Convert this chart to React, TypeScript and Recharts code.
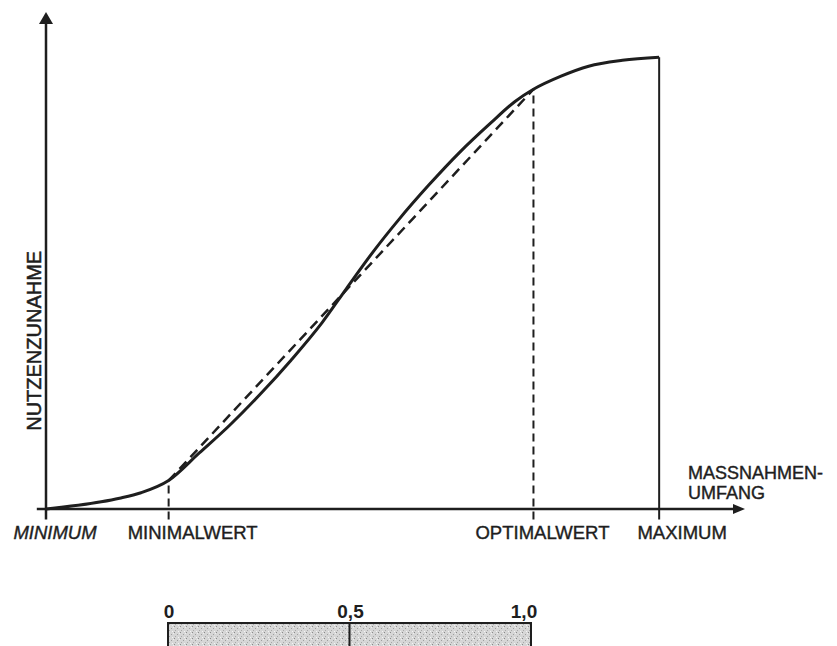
import React from 'react';
import {
  LineChart,
  Line,
  XAxis,
  YAxis,
  ReferenceLine,
  ReferenceDot,
  Label,
  BarChart,
  Bar,
} from 'recharts';

// S-Kurve: Nutzenzunahme über Maßnahmenumfang (0 = Minimum, 100 = Maximum)
const massnahmen = [0, 9, 12, 15.5, 20, 25, 30, 35, 40, 45, 49, 53.5, 57.5, 62.5, 67.5, 72.5, 76.5, 79.5, 84, 88.5, 94, 100];
const nutzen = [0, 1.6, 2.4, 3.6, 6.3, 12.4, 18.6, 25.5, 33, 41.2, 48.8, 57.2, 64, 71.8, 79, 85.4, 90.2, 92.9, 95.8, 98, 99.3, 100];

const minimalwert = { x: 20, y: 6.3 };
const optimalwert = { x: 79.5, y: 92.9 };
const maximum = { x: 100, y: 100 };

const tickValues = [0, 20, 79.5, 100];
const tickLabels = ['MINIMUM', 'MINIMALWERT', 'OPTIMALWERT', 'MAXIMUM'];

const scaleTicks = [0, 0.5, 1];
const scaleLabels = ['0', '0,5', '1,0'];
const scaleData = [{ name: 'skala', value: 1 }];

const curveData = massnahmen.map((x, i) => ({ x, y: nutzen[i] }));
const secantData = [minimalwert, optimalwert];

const INK = '#1e1e1e';
const FONT = '"Liberation Sans", Arial, sans-serif';
const labelDx = [9, 24, 9, 23];
const BELOW = -2.3; // kurze Markierung unter der Achse
const X_END = 114;
const Y_END = 110;

const AxisTick = (props: any) => {
  const { x, y, index } = props;
  return (
    <text
      x={x + labelDx[index]}
      y={y}
      dy={12}
      textAnchor="middle"
      fill={INK}
      stroke={INK}
      strokeWidth={0.4}
      fontFamily={FONT}
      fontSize={18.5}
      fontStyle={index === 0 ? 'italic' : 'normal'}
    >
      {tickLabels[index]}
    </text>
  );
};

const ScaleTick = (props: any) => {
  const { x, y, index } = props;
  return (
    <text
      x={x + (index === 2 ? -7 : 1)}
      y={y}
      dy={3}
      textAnchor="middle"
      fill={INK}
      fontFamily={FONT}
      fontSize={19}
      fontWeight="bold"
    >
      {scaleLabels[index]}
    </text>
  );
};

export default function App() {
  return (
    <div style={{ position: 'absolute', left: 0, top: 0, width: 837, height: 646, background: '#fff', overflow: 'hidden' }}>
      <LineChart width={837} height={646} margin={{ top: 12, right: 92, bottom: 96.6, left: 45 }}>
        <XAxis
          type="number"
          dataKey="x"
          domain={[0, X_END]}
          ticks={tickValues}
          tick={<AxisTick />}
          tickLine={false}
          axisLine={false}
          height={30}
          allowDataOverflow
        >
          <Label
            content={(p: any) => {
              const vb = p.viewBox;
              return (
                <text fontFamily={FONT} fontSize={18} fill={INK} stroke={INK} strokeWidth={0.4}>
                  <tspan x={vb.x + vb.width - 57} y={vb.y - 40}>MASSNAHMEN-</tspan>
                  <tspan x={vb.x + vb.width - 57} y={vb.y - 20}>UMFANG</tspan>
                </text>
              );
            }}
          />
        </XAxis>
        <YAxis
          type="number"
          domain={[BELOW, Y_END]}
          width={1}
          tick={false}
          tickLine={false}
          axisLine={false}
          allowDataOverflow
        >
          <Label
            content={(p: any) => {
              const vb = p.viewBox;
              const cx = vb.x + vb.width - 12;
              const cy = vb.y + vb.height * 0.648;
              return (
                <text
                  x={cx}
                  y={cy}
                  transform={`rotate(-90 ${cx} ${cy})`}
                  textAnchor="middle"
                  dominantBaseline="central"
                  fontFamily={FONT}
                  fontSize={20}
                  fill={INK}
                  stroke={INK}
                  strokeWidth={0.5}
                >
                  NUTZENZUNAHME
                </text>
              );
            }}
          />
        </YAxis>

        {/* Achsen */}
        <ReferenceLine
          segment={[{ x: 0, y: BELOW }, { x: 0, y: Y_END - 1 }]}
          stroke={INK}
          strokeWidth={2.5}
          ifOverflow="visible"
        />
        <ReferenceLine
          segment={[{ x: -1.5, y: 0 }, { x: X_END - 1, y: 0 }]}
          stroke={INK}
          strokeWidth={2.5}
          ifOverflow="visible"
        />

        <ReferenceLine
          segment={[{ x: minimalwert.x, y: BELOW }, { x: minimalwert.x, y: minimalwert.y }]}
          stroke={INK}
          strokeWidth={2}
          strokeDasharray="8 5"
          ifOverflow="visible"
        />
        <ReferenceLine
          segment={[{ x: optimalwert.x, y: BELOW }, { x: optimalwert.x, y: optimalwert.y }]}
          stroke={INK}
          strokeWidth={2}
          strokeDasharray="8 5"
          ifOverflow="visible"
        />
        <ReferenceLine
          segment={[{ x: maximum.x, y: BELOW }, { x: maximum.x, y: maximum.y }]}
          stroke={INK}
          strokeWidth={2}
          ifOverflow="visible"
        />

        <Line
          data={secantData}
          dataKey="y"
          type="linear"
          stroke={INK}
          strokeWidth={2.5}
          strokeDasharray="10 6"
          dot={false}
          isAnimationActive={false}
        />
        <Line
          data={curveData}
          dataKey="y"
          type="monotone"
          stroke={INK}
          strokeWidth={3}
          dot={false}
          isAnimationActive={false}
        />

        <ReferenceDot
          x={X_END}
          y={0}
          r={0}
          ifOverflow="visible"
          shape={(p: any) => (
            <polygon points={`${p.cx},${p.cy} ${p.cx - 12},${p.cy - 5} ${p.cx - 12},${p.cy + 5}`} fill={INK} />
          )}
        />
        <ReferenceDot
          x={0}
          y={Y_END}
          r={0}
          ifOverflow="visible"
          shape={(p: any) => (
            <polygon points={`${p.cx},${p.cy} ${p.cx - 7},${p.cy + 12} ${p.cx + 7},${p.cy + 12}`} fill={INK} />
          )}
        />
      </LineChart>

      <div style={{ position: 'absolute', left: 0, top: 590 }}>
        <BarChart
          width={837}
          height={70}
          data={scaleData}
          layout="vertical"
          barCategoryGap={0}
          margin={{ top: 0, right: 306, bottom: 0, left: 168 }}
        >
          <defs>
            <pattern id="stipple" width="6" height="6" patternUnits="userSpaceOnUse">
              <rect width="6" height="6" fill="#d6d6d6" />
              <rect x="0" y="0" width="1" height="1" fill="#8a8a8a" />
              <rect x="3" y="2" width="1" height="1" fill="#9e9e9e" />
              <rect x="1" y="4" width="1" height="1" fill="#a8a8a8" />
              <rect x="4" y="5" width="1" height="1" fill="#f4f4f4" />
              <rect x="5" y="1" width="1" height="1" fill="#f0f0f0" />
            </pattern>
          </defs>
          <XAxis
            type="number"
            orientation="top"
            domain={[0, 1]}
            ticks={scaleTicks}
            tick={<ScaleTick />}
            tickLine={false}
            axisLine={false}
            height={33}
          />
          <YAxis type="category" dataKey="name" hide />
          <Bar dataKey="value" fill="url(#stipple)" stroke={INK} strokeWidth={2} isAnimationActive={false} />
          <ReferenceLine x={0.5} stroke={INK} strokeWidth={2} />
        </BarChart>
      </div>
    </div>
  );
}
